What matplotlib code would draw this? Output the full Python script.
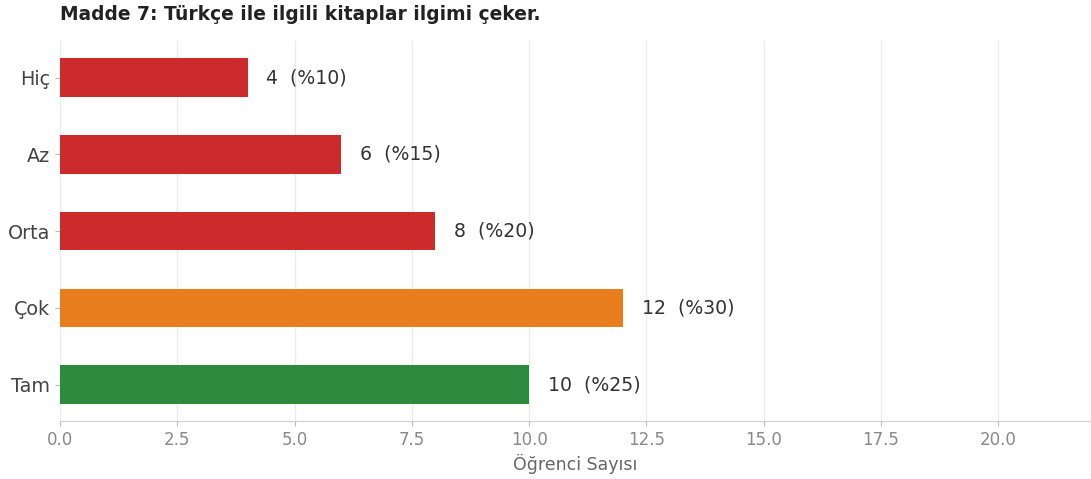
import matplotlib.pyplot as plt

# veri
categories = ['Hiç', 'Az', 'Orta', 'Çok', 'Tam']
counts = [4, 6, 8, 12, 10]
percents = [10, 15, 20, 30, 25]
colors = ['#cc2b2b', '#cc2b2b', '#cc2b2b', '#e87d1e', '#2e8b3e']

fig = plt.figure(figsize=(10.91, 4.79), dpi=100)
ax = fig.add_axes([0.055, 0.121, 0.945, 0.793])

y = list(range(len(categories)))
ax.barh(y, counts, height=0.5, color=colors, zorder=2)
ax.invert_yaxis()

for yi, c, p in zip(y, counts, percents):
    ax.text(c + 0.4, yi, f'{c}  (%{p})', ha='left', va='center',
            fontsize=13.6, color='#333333', zorder=3)

ax.set_yticks(y)
ax.set_yticklabels(categories, fontsize=13.8, color='#444444')
ax.set_xlim(0, 21.98)
ax.set_xticks([0, 2.5, 5, 7.5, 10, 12.5, 15, 17.5, 20])
ax.set_xticklabels(['0.0', '2.5', '5.0', '7.5', '10.0', '12.5', '15.0', '17.5', '20.0'])
ax.tick_params(axis='x', labelsize=12, labelcolor='#888888', color='#bbbbbb')
ax.tick_params(axis='y', color='#bbbbbb')

ax.grid(axis='x', color='#ebebeb', linewidth=1, zorder=0)
ax.set_axisbelow(True)
for s in ['top', 'right', 'left']:
    ax.spines[s].set_visible(False)
ax.spines['bottom'].set_color('#cccccc')

ax.set_xlabel('Öğrenci Sayısı', fontsize=12.5, color='#666666', labelpad=4)
ax.set_title('Madde 7: Türkçe ile ilgili kitaplar ilgimi çeker.', loc='left',
             fontsize=13.45, fontweight='bold', color='#222222', pad=15)

fig.savefig('out.png', dpi=100)
